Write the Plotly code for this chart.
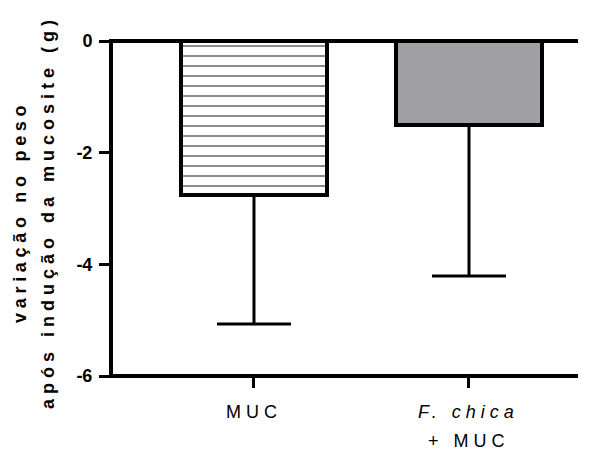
import plotly.graph_objects as go

categories = ["MUC", "F. chica + MUC"]
label_line1 = ["MUC", "<i>F. chica</i>"]
label_line2 = ["", "+ MUC"]
means = [-2.76, -1.50]
err_down = [2.31, 2.71]
fills = ["white", "#a09fa3"]
patterns = ["-", ""]
y_ticks = [0, -2, -4, -6]
y_title = ["variação no peso", "após indução da mucosite (g)"]

fig = go.Figure()
for i, c in enumerate(categories):
    fig.add_trace(go.Bar(
        x=[i], y=[means[i]], width=0.68,
        marker=dict(color=fills[i], line=dict(color="black", width=4),
                    pattern=dict(shape=patterns[i], fgcolor="black", bgcolor=fills[i],
                                 size=10, solidity=0.18)),
        error_y=dict(type="data", symmetric=False, array=[0], arrayminus=[err_down[i]],
                     color="black", thickness=3, width=37),
        showlegend=False,
    ))

font_family = "Liberation Sans, Arial, sans-serif"
annotations = []
for i in range(len(categories)):
    annotations.append(dict(x=i, xref="x", y=412, yref="paper", yanchor="middle", xanchor="center",
                            text=f'<span style="letter-spacing:5px">{label_line1[i]}</span>',
                            showarrow=False, font=dict(size=18)))
    if label_line2[i]:
        annotations.append(dict(x=i, xref="x", y=441, yref="paper", yanchor="middle", xanchor="center",
                                text=f'<span style="letter-spacing:5px">{label_line2[i]}</span>',
                                showarrow=False, font=dict(size=18)))
# convert pixel y to paper coords
top_px, bot_px = 41, 376
for a in annotations:
    a["y"] = (bot_px - a["y"]) / (bot_px - top_px)

title_x_px = [20, 48]
title_spacing = [4.7, 5.0]
for k, t in enumerate(y_title):
    annotations.append(dict(x=(title_x_px[k] - 111) / (578 - 111), xref="paper",
                            y=(bot_px - 212) / (bot_px - top_px), yref="paper",
                            xanchor="center", yanchor="middle", textangle=-90,
                            text=f'<span style="letter-spacing:{title_spacing[k]}px"><b>{t}</b></span>',
                            showarrow=False, font=dict(size=18)))

fig.update_layout(
    width=603, height=453,
    margin=dict(l=111, r=25, t=41, b=77),
    plot_bgcolor="white", paper_bgcolor="white",
    font=dict(family=font_family, color="black"),
    xaxis=dict(range=[-0.665, 1.507], tickvals=[0, 1], ticktext=["", ""],
               showline=False, ticks="outside", ticklen=11, tickwidth=3, tickcolor="black",
               showgrid=False, zeroline=False),
    yaxis=dict(range=[-6, 0], tickvals=y_ticks, ticktext=[str(v) for v in y_ticks],
               showline=False, ticks="outside", ticklen=11, tickwidth=3, tickcolor="black",
               tickfont=dict(size=18, family="Liberation Sans", weight="bold", color="black"),
               ticklabelstandoff=3,
               showgrid=False, zeroline=False),
    shapes=[dict(type="path", xref="paper", yref="paper",
                 path="M 1 1 L 0 1 L 0 0 L 1 0", line=dict(color="black", width=4), layer="above")],
    annotations=annotations,
    bargap=0,
)
fig.write_html("out.html")
